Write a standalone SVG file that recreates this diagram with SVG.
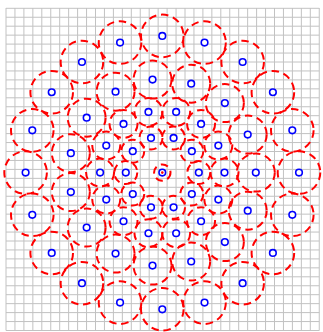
<svg xmlns="http://www.w3.org/2000/svg" width="323" height="332" viewBox="0 0 323 332">
<style>
.grid{stroke:#c2c2c2;stroke-width:1;fill:none}
.r{fill:none;stroke:#ff0000;stroke-width:2;stroke-dasharray:7.5 4.8}
.b{fill:#ffffff;stroke:#0000ff;stroke-width:1.6}
</style>
<rect width="323" height="332" fill="#ffffff"/>
<g id="grid">
<path class="grid" d="M6 8V330.5M14.95 8V330.5M23.9 8V330.5M32.85 8V330.5M41.8 8V330.5M50.75 8V330.5M59.7 8V330.5M68.65 8V330.5M77.6 8V330.5M86.55 8V330.5M95.5 8V330.5M104.45 8V330.5M113.4 8V330.5M122.35 8V330.5M131.3 8V330.5M140.25 8V330.5M149.2 8V330.5M158.15 8V330.5M167.1 8V330.5M176.05 8V330.5M185 8V330.5M193.95 8V330.5M202.9 8V330.5M211.85 8V330.5M220.8 8V330.5M229.75 8V330.5M238.7 8V330.5M247.65 8V330.5M256.6 8V330.5M265.55 8V330.5M274.5 8V330.5M283.45 8V330.5M292.4 8V330.5M301.35 8V330.5M310.3 8V330.5M319.25 8V330.5"/>
<path class="grid" d="M6 8.3H319.25M6 17.25H319.25M6 26.2H319.25M6 35.15H319.25M6 44.1H319.25M6 53.05H319.25M6 62H319.25M6 70.95H319.25M6 79.9H319.25M6 88.85H319.25M6 97.8H319.25M6 106.75H319.25M6 115.7H319.25M6 124.65H319.25M6 133.6H319.25M6 142.55H319.25M6 151.5H319.25M6 160.45H319.25M6 169.4H319.25M6 178.35H319.25M6 187.3H319.25M6 196.25H319.25M6 205.2H319.25M6 214.15H319.25M6 223.1H319.25M6 232.05H319.25M6 241H319.25M6 249.95H319.25M6 258.9H319.25M6 267.85H319.25M6 276.8H319.25M6 285.75H319.25M6 294.7H319.25M6 303.65H319.25M6 312.6H319.25M6 321.55H319.25M6 330.5H319.25"/>
</g>
<g id="connectors"></g>
<g id="n0"><circle class="r" cx="162.3" cy="172.6" r="8.2"/><circle class="b" cx="162.3" cy="172.6" r="3.3"/><circle cx="162.3" cy="172.6" r="1.3" fill="#ff0000"/></g>
<g id="n1_0"><circle class="r" cx="198.8" cy="172.6" r="11.5"/><circle class="b" cx="198.8" cy="172.6" r="3.3"/></g>
<g id="n1_1"><circle class="r" cx="191.83" cy="151.15" r="11.5"/><circle class="b" cx="191.83" cy="151.15" r="3.3"/></g>
<g id="n1_2"><circle class="r" cx="173.58" cy="137.88" r="11.5"/><circle class="b" cx="173.58" cy="137.88" r="3.3"/></g>
<g id="n1_3"><circle class="r" cx="151.02" cy="137.88" r="11.5"/><circle class="b" cx="151.02" cy="137.88" r="3.3"/></g>
<g id="n1_4"><circle class="r" cx="132.77" cy="151.15" r="11.5"/><circle class="b" cx="132.77" cy="151.15" r="3.3"/></g>
<g id="n1_5"><circle class="r" cx="125.8" cy="172.6" r="11.5"/><circle class="b" cx="125.8" cy="172.6" r="3.3"/></g>
<g id="n1_6"><circle class="r" cx="132.77" cy="194.05" r="11.5"/><circle class="b" cx="132.77" cy="194.05" r="3.3"/></g>
<g id="n1_7"><circle class="r" cx="151.02" cy="207.32" r="11.5"/><circle class="b" cx="151.02" cy="207.32" r="3.3"/></g>
<g id="n1_8"><circle class="r" cx="173.58" cy="207.32" r="11.5"/><circle class="b" cx="173.58" cy="207.32" r="3.3"/></g>
<g id="n1_9"><circle class="r" cx="191.83" cy="194.05" r="11.5"/><circle class="b" cx="191.83" cy="194.05" r="3.3"/></g>
<g id="n2_0"><circle class="r" cx="224.5" cy="172.6" r="14"/><circle class="b" cx="224.5" cy="172.6" r="3.3"/></g>
<g id="n2_1"><circle class="r" cx="218.34" cy="145.61" r="14"/><circle class="b" cx="218.34" cy="145.61" r="3.3"/></g>
<g id="n2_2"><circle class="r" cx="201.08" cy="123.97" r="14"/><circle class="b" cx="201.08" cy="123.97" r="3.3"/></g>
<g id="n2_3"><circle class="r" cx="176.14" cy="111.96" r="14"/><circle class="b" cx="176.14" cy="111.96" r="3.3"/></g>
<g id="n2_4"><circle class="r" cx="148.46" cy="111.96" r="14"/><circle class="b" cx="148.46" cy="111.96" r="3.3"/></g>
<g id="n2_5"><circle class="r" cx="123.52" cy="123.97" r="14"/><circle class="b" cx="123.52" cy="123.97" r="3.3"/></g>
<g id="n2_6"><circle class="r" cx="106.26" cy="145.61" r="14"/><circle class="b" cx="106.26" cy="145.61" r="3.3"/></g>
<g id="n2_7"><circle class="r" cx="100.1" cy="172.6" r="14"/><circle class="b" cx="100.1" cy="172.6" r="3.3"/></g>
<g id="n2_8"><circle class="r" cx="106.26" cy="199.59" r="14"/><circle class="b" cx="106.26" cy="199.59" r="3.3"/></g>
<g id="n2_9"><circle class="r" cx="123.52" cy="221.23" r="14"/><circle class="b" cx="123.52" cy="221.23" r="3.3"/></g>
<g id="n2_10"><circle class="r" cx="148.46" cy="233.24" r="14"/><circle class="b" cx="148.46" cy="233.24" r="3.3"/></g>
<g id="n2_11"><circle class="r" cx="176.14" cy="233.24" r="14"/><circle class="b" cx="176.14" cy="233.24" r="3.3"/></g>
<g id="n2_12"><circle class="r" cx="201.08" cy="221.23" r="14"/><circle class="b" cx="201.08" cy="221.23" r="3.3"/></g>
<g id="n2_13"><circle class="r" cx="218.34" cy="199.59" r="14"/><circle class="b" cx="218.34" cy="199.59" r="3.3"/></g>
<g id="n3_0"><circle class="r" cx="255.8" cy="172.6" r="19"/><circle class="b" cx="255.8" cy="172.6" r="3.3"/></g>
<g id="n3_1"><circle class="r" cx="247.72" cy="134.57" r="19"/><circle class="b" cx="247.72" cy="134.57" r="3.3"/></g>
<g id="n3_2"><circle class="r" cx="224.86" cy="103.12" r="19"/><circle class="b" cx="224.86" cy="103.12" r="3.3"/></g>
<g id="n3_3"><circle class="r" cx="191.19" cy="83.68" r="19"/><circle class="b" cx="191.19" cy="83.68" r="3.3"/></g>
<g id="n3_4"><circle class="r" cx="152.53" cy="79.61" r="19"/><circle class="b" cx="152.53" cy="79.61" r="3.3"/></g>
<g id="n3_5"><circle class="r" cx="115.55" cy="91.63" r="19"/><circle class="b" cx="115.55" cy="91.63" r="3.3"/></g>
<g id="n3_6"><circle class="r" cx="86.66" cy="117.64" r="19"/><circle class="b" cx="86.66" cy="117.64" r="3.3"/></g>
<g id="n3_7"><circle class="r" cx="70.84" cy="153.16" r="19"/><circle class="b" cx="70.84" cy="153.16" r="3.3"/></g>
<g id="n3_8"><circle class="r" cx="70.84" cy="192.04" r="19"/><circle class="b" cx="70.84" cy="192.04" r="3.3"/></g>
<g id="n3_9"><circle class="r" cx="86.66" cy="227.56" r="19"/><circle class="b" cx="86.66" cy="227.56" r="3.3"/></g>
<g id="n3_10"><circle class="r" cx="115.55" cy="253.57" r="19"/><circle class="b" cx="115.55" cy="253.57" r="3.3"/></g>
<g id="n3_11"><circle class="r" cx="152.53" cy="265.59" r="19"/><circle class="b" cx="152.53" cy="265.59" r="3.3"/></g>
<g id="n3_12"><circle class="r" cx="191.19" cy="261.52" r="19"/><circle class="b" cx="191.19" cy="261.52" r="3.3"/></g>
<g id="n3_13"><circle class="r" cx="224.86" cy="242.08" r="19"/><circle class="b" cx="224.86" cy="242.08" r="3.3"/></g>
<g id="n3_14"><circle class="r" cx="247.72" cy="210.63" r="19"/><circle class="b" cx="247.72" cy="210.63" r="3.3"/></g>
<g id="n4_0"><circle class="r" cx="299" cy="172.6" r="21.3"/><circle class="b" cx="299" cy="172.6" r="3.3"/></g>
<g id="n4_1"><circle class="r" cx="292.31" cy="130.36" r="21.3"/><circle class="b" cx="292.31" cy="130.36" r="3.3"/></g>
<g id="n4_2"><circle class="r" cx="272.89" cy="92.25" r="21.3"/><circle class="b" cx="272.89" cy="92.25" r="3.3"/></g>
<g id="n4_3"><circle class="r" cx="242.65" cy="62.01" r="21.3"/><circle class="b" cx="242.65" cy="62.01" r="3.3"/></g>
<g id="n4_4"><circle class="r" cx="204.54" cy="42.59" r="21.3"/><circle class="b" cx="204.54" cy="42.59" r="3.3"/></g>
<g id="n4_5"><circle class="r" cx="162.3" cy="35.9" r="21.3"/><circle class="b" cx="162.3" cy="35.9" r="3.3"/></g>
<g id="n4_6"><circle class="r" cx="120.06" cy="42.59" r="21.3"/><circle class="b" cx="120.06" cy="42.59" r="3.3"/></g>
<g id="n4_7"><circle class="r" cx="81.95" cy="62.01" r="21.3"/><circle class="b" cx="81.95" cy="62.01" r="3.3"/></g>
<g id="n4_8"><circle class="r" cx="51.71" cy="92.25" r="21.3"/><circle class="b" cx="51.71" cy="92.25" r="3.3"/></g>
<g id="n4_9"><circle class="r" cx="32.29" cy="130.36" r="21.3"/><circle class="b" cx="32.29" cy="130.36" r="3.3"/></g>
<g id="n4_10"><circle class="r" cx="25.6" cy="172.6" r="21.3"/><circle class="b" cx="25.6" cy="172.6" r="3.3"/></g>
<g id="n4_11"><circle class="r" cx="32.29" cy="214.84" r="21.3"/><circle class="b" cx="32.29" cy="214.84" r="3.3"/></g>
<g id="n4_12"><circle class="r" cx="51.71" cy="252.95" r="21.3"/><circle class="b" cx="51.71" cy="252.95" r="3.3"/></g>
<g id="n4_13"><circle class="r" cx="81.95" cy="283.19" r="21.3"/><circle class="b" cx="81.95" cy="283.19" r="3.3"/></g>
<g id="n4_14"><circle class="r" cx="120.06" cy="302.61" r="21.3"/><circle class="b" cx="120.06" cy="302.61" r="3.3"/></g>
<g id="n4_15"><circle class="r" cx="162.3" cy="309.3" r="21.3"/><circle class="b" cx="162.3" cy="309.3" r="3.3"/></g>
<g id="n4_16"><circle class="r" cx="204.54" cy="302.61" r="21.3"/><circle class="b" cx="204.54" cy="302.61" r="3.3"/></g>
<g id="n4_17"><circle class="r" cx="242.65" cy="283.19" r="21.3"/><circle class="b" cx="242.65" cy="283.19" r="3.3"/></g>
<g id="n4_18"><circle class="r" cx="272.89" cy="252.95" r="21.3"/><circle class="b" cx="272.89" cy="252.95" r="3.3"/></g>
<g id="n4_19"><circle class="r" cx="292.31" cy="214.84" r="21.3"/><circle class="b" cx="292.31" cy="214.84" r="3.3"/></g>
</svg>
